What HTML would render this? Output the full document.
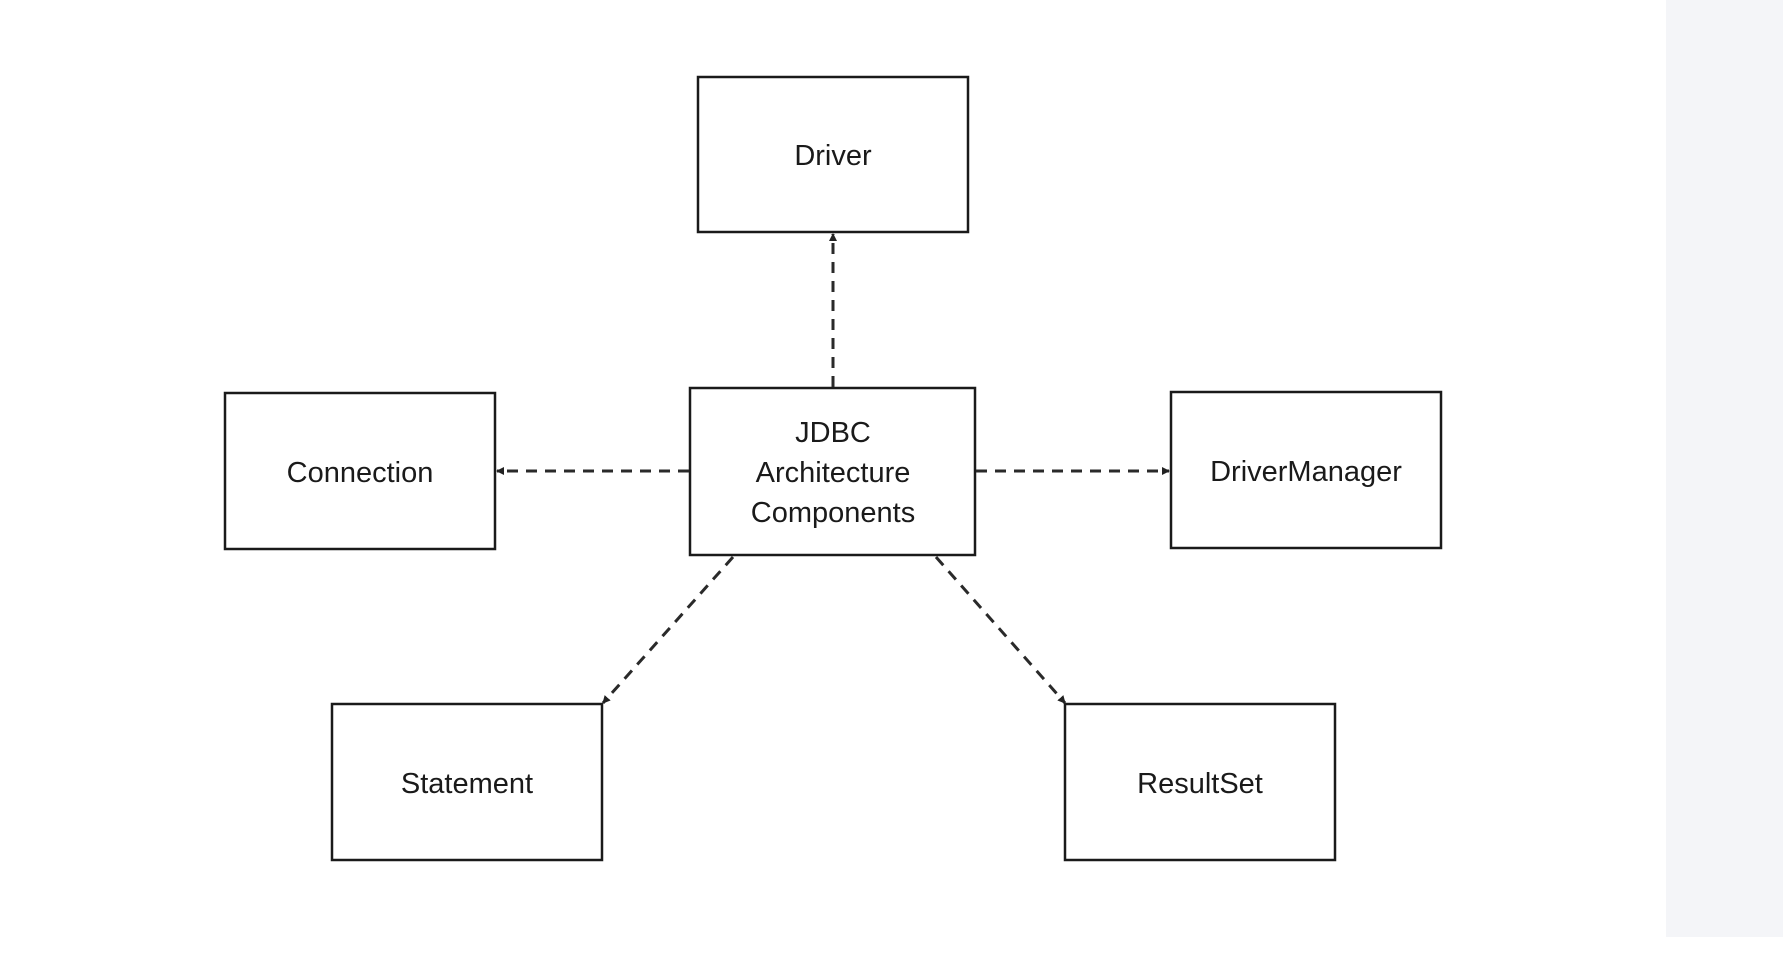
<!DOCTYPE html>
<html><head><meta charset="utf-8"><style>
html,body{margin:0;padding:0;background:#fff;width:1783px;height:960px;overflow:hidden}
</style></head><body>
<svg width="1783" height="960" xmlns="http://www.w3.org/2000/svg" style="position:absolute;left:0;top:0">
<defs><marker id="a" markerWidth="8" markerHeight="8" refX="7" refY="4" orient="auto" markerUnits="userSpaceOnUse"><path d="M0,0 L8,4 L0,8 z" fill="#222"/></marker></defs>
<rect x="1666" y="0" width="117" height="937" fill="#f4f5f8"/>
<g fill="#fff" stroke="#1a1a1a" stroke-width="2.5">
<rect x="698" y="77" width="270" height="155"/>
<rect x="690" y="388" width="285" height="167"/>
<rect x="225" y="393" width="270" height="156"/>
<rect x="1171" y="392" width="270" height="156"/>
<rect x="332" y="704" width="270" height="156"/>
<rect x="1065" y="704" width="270" height="156"/>
</g>
<g stroke="#2a2a2a" stroke-width="3" stroke-dasharray="11,8" fill="none" marker-end="url(#a)">
<line x1="833" y1="387" x2="833" y2="234"/>
<line x1="689" y1="471" x2="497" y2="471"/>
<line x1="976" y1="471" x2="1169" y2="471"/>
<line x1="733" y1="557" x2="603" y2="703"/>
<line x1="936" y1="557" x2="1065" y2="703"/>
</g>
<g font-family="Liberation Sans, sans-serif" font-size="29" fill="#1a1a1a" text-anchor="middle">
<text x="833" y="165">Driver</text>
<text x="833" y="442">JDBC</text>
<text x="833" y="482">Architecture</text>
<text x="833" y="522">Components</text>
<text x="360" y="482">Connection</text>
<text x="1306" y="481">DriverManager</text>
<text x="467" y="793">Statement</text>
<text x="1200" y="793">ResultSet</text>
</g>
</svg>
</body></html>
